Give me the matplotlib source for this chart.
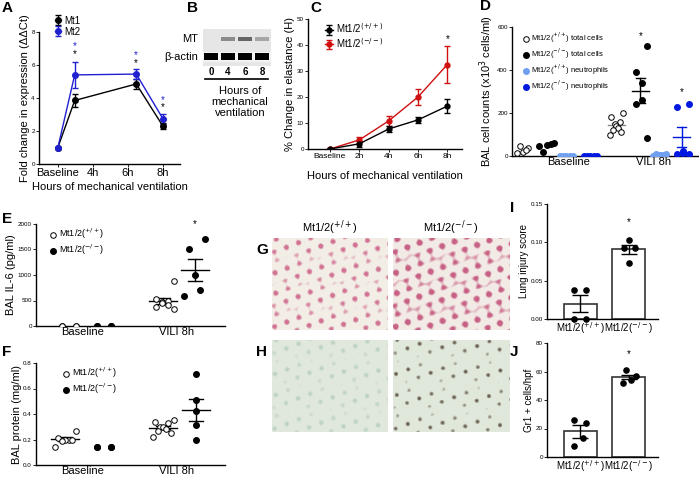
import numpy as np
import matplotlib
matplotlib.use("Agg")
import matplotlib.pyplot as plt

W, H = 699, 478
fig = plt.figure(figsize=(W/100, H/100), dpi=100)
plt.rcParams['font.family'] = ['Liberation Sans', 'DejaVu Sans']

WT = 'Mt1/2($^{+/+}$)'
KO = 'Mt1/2($^{-/-}$)'

def pax(x0, y0, x1, y1):
    a = fig.add_axes([x0/W, 1-y1/H, (x1-x0)/W, (y1-y0)/H])
    a.spines['top'].set_visible(False); a.spines['right'].set_visible(False)
    a.tick_params(labelsize=4.5, length=2, width=0.6, pad=1)
    for s in ('left', 'bottom'):
        a.spines[s].set_linewidth(1.0)
    a.patch.set_alpha(0)
    return a

def letter(x, y, t):
    fig.text(x/W, 1-y/H, t, fontsize=11, fontweight='bold', va='center', ha='left')

# ---------- A ----------
a_x = [0, 0.48, 2.24, 3]
a_lab = ['Baseline', '4h', '6h', '8h']
mt1 = [1, 3.85, 4.85, 2.3]; mt1e = [0.05, 0.4, 0.3, 0.2]
mt2 = [1, 5.4, 5.45, 2.75]; mt2e = [0.05, 0.8, 0.3, 0.3]
ax = pax(39, 32, 180, 164)
ax.errorbar(a_x, mt1, mt1e, color='black', marker='o', ms=4, lw=1, capsize=2, label='Mt1')
ax.errorbar(a_x, mt2, mt2e, color='#2020d0', marker='o', ms=4, lw=1, capsize=2, label='Mt2')
for xi, yi in zip(a_x[1:], [6.5, 5.95, 3.25]):
    ax.text(xi, yi, '*', ha='center', fontsize=7)
    ax.text(xi, yi+0.45, '*', ha='center', fontsize=7, color='#2020d0')
ax.set_xlim(-0.54, 3.49); ax.set_ylim(0, 8)
ax.set_yticks([0, 2, 4, 6, 8])
ax.set_xticks([0, 1, 2, 3]); ax.set_xticklabels(a_lab, fontsize=8)
ax.set_ylabel('Fold change in expression (ΔΔCt)', fontsize=8, labelpad=1)
ax.set_xlabel('Hours of mechanical ventilation', fontsize=8, labelpad=3)
ax.legend(loc='upper left', fontsize=7, frameon=False, handlelength=0.6, borderpad=0,
          bbox_to_anchor=(0.08, 1.16), labelspacing=0.1, handletextpad=0.3)
letter(2, 8, 'A')

# ---------- B (blot) ----------
b_lanes = ['0', '4', '6', '8']
bx = fig.add_axes([203/W, 1-66/H, 68/W, 37/H])
img = np.ones((37, 68)) * 0.9
img[23:33, :] = 0.95
bx.imshow(img, cmap='gray', vmin=0, vmax=1, aspect='auto', extent=(0, 68, 37, 0))
for i, inten in enumerate([0.0, 0.5, 0.7, 0.35]):
    cx = 8 + i*17
    bx.add_patch(plt.Rectangle((cx-7, 8), 14, 4, color='black', alpha=inten*0.8, lw=0))
    bx.add_patch(plt.Rectangle((cx-7, 24), 14, 7, color='black', lw=0))
bx.set_xlim(0, 68); bx.set_ylim(37, 0); bx.axis('off')
fig.text(198/W, 1-39/H, 'MT', fontsize=8, ha='right', va='center')
fig.text(198/W, 1-57/H, 'β-actin', fontsize=8, ha='right', va='center')
for i, l in enumerate(b_lanes):
    fig.text((211+i*17)/W, 1-72/H, l, fontsize=7, fontweight='bold', ha='center', va='center')
fig.add_artist(plt.Line2D([205/W, 268/W], [1-79/H, 1-79/H], color='black', lw=1.2))
fig.text(240/W, 1-102/H, 'Hours of\nmechanical\nventilation', fontsize=8, ha='center', va='center', linespacing=1.1)
letter(187, 8, 'B')

# ---------- C ----------
c_lab = ['Baseline', '2h', '4h', '6h', '8h']
c_wt = [0, 2, 7.7, 11.2, 16.5]; c_wte = [0.3, 1.2, 1.2, 1.2, 2.8]
c_ko = [0, 3.5, 10.8, 20, 32.5]; c_koe = [0.3, 1.2, 1.8, 3.2, 7]
ax = pax(308, 19, 462, 149)
x = np.arange(5)
ax.errorbar(x, c_ko, c_koe, color='#d01010', marker='o', ms=3.5, lw=1, capsize=2, label='Mt1/2$^{(-/-)}$')
ax.errorbar(x, c_wt, c_wte, color='black', marker='o', ms=3.5, lw=1, capsize=2, label='Mt1/2$^{(+/+)}$')
ax.text(4, 41, '*', ha='center', fontsize=7)
ax.set_xlim(-0.75, 4.5); ax.set_ylim(0, 50)
ax.set_yticks([0, 10, 20, 30, 40, 50])
ax.set_xticks(x); ax.set_xticklabels(c_lab, fontsize=6)
ax.set_ylabel('% Change in elastance (H)', fontsize=8, labelpad=1)
ax.set_xlabel('Hours of mechanical ventilation', fontsize=8, labelpad=8)
h, l = ax.get_legend_handles_labels()
ax.legend(h[::-1], l[::-1], loc='upper left', fontsize=7, frameon=False, handlelength=0.8, borderpad=0,
          bbox_to_anchor=(0.08, 1.02), labelspacing=0.1, handletextpad=0.3)
letter(310, 8, 'C')

# ---------- D ----------
d_groups = ['Baseline', 'VILI 8h']
d_base_wt = [35, 45, 20, 30, 15]
d_base_ko = [60, 20, 50, 55, 45]
d_base_wtn = [0, 0, 0, 0, 0]
d_base_kon = [0, 0, 0, 0, 0]
d_vili_wt = [200, 180, 160, 150, 140, 130, 120, 110, 100]
d_vili_ko = [510, 390, 340, 260, 240, 85]
d_vili_wtn = [10, 8, 5, 5, 3, 2, 2]
d_vili_kon = [240, 230, 25, 15, 10, 10]
ax = pax(512, 27, 699, 156)
def dots(ax, xc, vals, spread, **kw):
    n = len(vals)
    offs = np.linspace(-spread, spread, n) if n > 1 else np.array([0.0])
    ax.scatter(xc + offs[::-1] * np.array([(-1)**i for i in range(n)]), vals, s=16, zorder=3, **kw)
def meanbar(ax, xc, vals, color, w=0.4):
    m = np.mean(vals); s = np.std(vals, ddof=1)/np.sqrt(len(vals))
    ax.plot([xc-w, xc+w], [m, m], color=color, lw=1)
    ax.plot([xc, xc], [m-s, m+s], color=color, lw=1)
    ax.plot([xc-w/2, xc+w/2], [m-s]*2, color=color, lw=1)
    ax.plot([xc-w/2, xc+w/2], [m+s]*2, color=color, lw=1)
lb = '#6fa0f0'; db = '#0018e0'
dots(ax, 0, d_base_wt, 0.25, facecolors='white', edgecolors='black', lw=0.7, label=WT+' total cells')
dots(ax, 1.1, d_base_ko, 0.35, color='black', label=KO+' total cells')
dots(ax, 2.0, d_base_wtn, 0.3, color=lb, label=WT+' neutrophils')
dots(ax, 3.1, d_base_kon, 0.3, color=db, label=KO+' neutrophils')
dots(ax, 4.3, d_vili_wt, 0.3, facecolors='white', edgecolors='black', lw=0.7)
meanbar(ax, 4.3, d_vili_wt, '#888888')
dots(ax, 5.4, d_vili_ko, 0.3, color='black')
meanbar(ax, 5.4, d_vili_ko, 'black')
dots(ax, 6.3, d_vili_wtn, 0.3, color=lb)
dots(ax, 7.3, d_vili_kon, 0.35, color=db)
meanbar(ax, 7.3, d_vili_kon, db)
ax.text(5.4, 545, '*', ha='center', fontsize=7)
ax.text(7.3, 285, '*', ha='center', fontsize=7)
ax.set_xlim(-0.5, 8.1); ax.set_ylim(0, 600)
ax.set_yticks([0, 200, 400, 600])
ax.set_xticks([2.1, 6.0]); ax.set_xticklabels(d_groups, fontsize=8)
ax.tick_params(axis='x', length=0)
ax.set_ylabel('BAL cell counts (x10$^3$ cells/ml)', fontsize=8, labelpad=1)
ax.legend(loc='upper left', fontsize=5.5, frameon=False, handlelength=0.6, borderpad=0,
          bbox_to_anchor=(0.04, 1.0), labelspacing=0.2, handletextpad=0.4, scatterpoints=1)
letter(480, 6, 'D')

# ---------- E ----------
e_base_wt = [0, 0, 0, 0]
e_base_ko = [0, 0, 0, 0]
e_vili_wt = [890, 530, 500, 480, 450, 420, 380, 330]
e_vili_ko = [1700, 1500, 1000, 700, 590]
ax = pax(36, 224, 225, 326)
dots(ax, 0, e_base_wt, 0.3, facecolors='white', edgecolors='black', lw=0.7, label=WT)
dots(ax, 1, e_base_ko, 0.3, color='black', label=KO)
dots(ax, 2.8, e_vili_wt, 0.3, facecolors='white', edgecolors='black', lw=0.7)
meanbar(ax, 2.8, e_vili_wt, 'black')
dots(ax, 3.7, e_vili_ko, 0.3, color='black')
meanbar(ax, 3.7, e_vili_ko, 'black')
ax.text(3.7, 1930, '*', ha='center', fontsize=7, clip_on=False)
ax.set_xlim(-0.83, 4.57); ax.set_ylim(0, 2000)
ax.set_yticks([0, 500, 1000, 1500, 2000])
ax.set_xticks([0.5, 3.2]); ax.set_xticklabels(d_groups, fontsize=8)
ax.tick_params(axis='x', length=0)
ax.set_ylabel('BAL IL-6 (pg/ml)', fontsize=8, labelpad=1)
ax.legend(loc='upper left', fontsize=6.5, frameon=False, handlelength=0.6, borderpad=0,
          bbox_to_anchor=(0.05, 1.02), labelspacing=0.2, handletextpad=0.4)
letter(2, 219, 'E')

# ---------- F ----------
f_base_wt = [0.27, 0.21, 0.20, 0.20, 0.19, 0.20, 0.14]
f_base_ko = [0.14, 0.14, 0.14, 0.14]
f_vili_wt = [0.35, 0.34, 0.33, 0.30, 0.30, 0.28, 0.27, 0.25, 0.22]
f_vili_ko = [0.71, 0.51, 0.42, 0.31, 0.20]
ax = pax(36, 363, 225, 465)
dots(ax, 0, f_base_wt, 0.3, facecolors='white', edgecolors='black', lw=0.7, label=WT)
meanbar(ax, 0, f_base_wt, 'black')
dots(ax, 1, f_base_ko, 0.3, color='black', label=KO)
dots(ax, 2.8, f_vili_wt, 0.3, facecolors='white', edgecolors='black', lw=0.7)
meanbar(ax, 2.8, f_vili_wt, 'black')
dots(ax, 3.75, f_vili_ko, 0.0, color='black')
meanbar(ax, 3.75, f_vili_ko, 'black')
ax.set_xlim(-0.83, 4.57); ax.set_ylim(0, 0.8)
ax.set_yticks([0, 0.2, 0.4, 0.6, 0.8])
ax.set_yticklabels(['0.0', '0.2', '0.4', '0.6', '0.8'])
ax.set_xticks([0.5, 3.2]); ax.set_xticklabels(d_groups, fontsize=8)
ax.tick_params(axis='x', length=0)
ax.set_ylabel('BAL protein (mg/ml)', fontsize=8, labelpad=1)
ax.legend(loc='upper left', fontsize=6.5, frameon=False, handlelength=0.6, borderpad=0,
          bbox_to_anchor=(0.12, 1.02), labelspacing=0.2, handletextpad=0.4)
letter(2, 352, 'F')

# ---------- G / H (histology placeholders) ----------
yy, xx = np.mgrid[0:90, 0:116]
tex = (np.sin(xx*0.55)+np.sin(yy*0.6+xx*0.2)+np.sin((xx-yy)*0.35))/3
def histo(x0, y0, x1, y1, base, dark, t, amt):
    a = fig.add_axes([x0/W, 1-y1/H, (x1-x0)/W, (y1-y0)/H])
    m = np.clip((tex - t)*amt, 0, 1)[..., None]
    im = np.array(base)[None, None, :]*(1-m) + np.array(dark)[None, None, :]*m
    a.imshow(im, aspect='auto'); a.axis('off')
histo(272, 238, 388, 330, [0.95, 0.93, 0.90], [0.82, 0.45, 0.58], 0.3, 2.0)
histo(393, 238, 510, 330, [0.95, 0.92, 0.90], [0.78, 0.38, 0.52], 0.15, 2.0)
histo(272, 340, 388, 432, [0.88, 0.91, 0.86], [0.70, 0.80, 0.75], 0.4, 1.5)
histo(393, 340, 510, 432, [0.88, 0.91, 0.86], [0.40, 0.36, 0.30], 0.55, 2.5)
fig.text(330/W, 1-228/H, WT, fontsize=8, ha='center', va='center')
fig.text(451/W, 1-228/H, KO, fontsize=8, ha='center', va='center')
letter(256, 250, 'G')
letter(256, 352, 'H')

# ---------- I ----------
i_means = [0.02, 0.091]; i_sem = [0.011, 0.006]
i_wt = [0.038, 0.038, 0.0, 0.0]
i_ko = [0.103, 0.093, 0.093, 0.073]
ax = pax(547, 204, 658, 319)
ax.bar([0, 1], i_means, width=0.68, color='white', edgecolor='#333333', lw=1.2)
for xc, m, s in zip([0, 1], i_means, i_sem):
    ax.errorbar(xc, m, s, color='black', capsize=6, lw=1)
ax.scatter(0 + np.array([-0.12, 0.12, -0.12, 0.12]), i_wt, s=14, color='black', zorder=3, clip_on=False)
ax.scatter(1 + np.array([0, -0.1, 0.12, 0]), i_ko, s=14, color='black', zorder=3)
ax.text(1, 0.122, '*', ha='center', fontsize=7)
ax.set_xlim(-0.68, 1.6); ax.set_ylim(0, 0.15)
ax.set_yticks([0, 0.05, 0.10, 0.15]); ax.set_yticklabels(['0.00', '0.05', '0.10', '0.15'])
ax.set_xticks([0, 1]); ax.set_xticklabels([WT, KO], fontsize=7)
ax.tick_params(axis='x', length=0)
ax.set_ylabel('Lung injury score', fontsize=7, labelpad=1)
letter(510, 208, 'I')

# ---------- J ----------
j_means = [18, 56]; j_sem = [4.5, 1.5]
j_wt = [26, 24, 13, 8]
j_ko = [61, 57, 54, 52]
ax = pax(547, 343, 658, 457)
ax.bar([0, 1], j_means, width=0.68, color='white', edgecolor='#333333', lw=1.2)
for xc, m, s in zip([0, 1], j_means, j_sem):
    ax.errorbar(xc, m, s, color='black', capsize=6, lw=1)
ax.scatter(0 + np.array([-0.12, 0.12, 0.05, -0.12]), j_wt, s=14, color='black', zorder=3)
ax.scatter(1 + np.array([-0.05, 0.15, 0.05, -0.12]), j_ko, s=14, color='black', zorder=3)
ax.text(1, 70, '*', ha='center', fontsize=7)
ax.set_xlim(-0.68, 1.6); ax.set_ylim(0, 80)
ax.set_yticks([0, 20, 40, 60, 80])
ax.set_xticks([0, 1]); ax.set_xticklabels([WT, KO], fontsize=7)
ax.tick_params(axis='x', length=0)
ax.set_ylabel('Gr1 + cells/hpf', fontsize=7, labelpad=1)
letter(510, 352, 'J')

fig.savefig('out.png', dpi=100)
